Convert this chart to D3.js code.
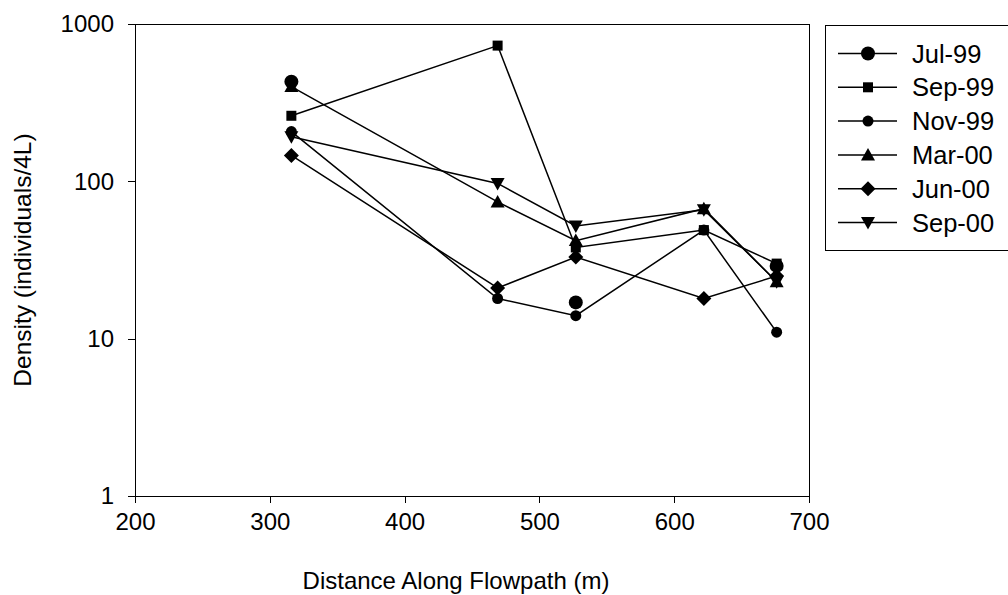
<!DOCTYPE html>
<html>
<head>
<meta charset="utf-8">
<script src="https://cdn.jsdelivr.net/npm/d3@7"></script>
<style>
    body { margin: 0; background: #fff; }
    svg { display: block; font-family: "Liberation Sans", Arial, sans-serif; }
</style>
</head>
<body>
<div id="chart"></div>
<script>
    // distance along flowpath (m)
    var distances = [316, 469, 527, 622, 676];

    var series_names = ["Jul-99", "Sep-99", "Nov-99", "Mar-00", "Jun-00", "Sep-00"];
    var series_markers = ["circle", "square", "smallcircle", "triangle", "diamond", "triangledown"];

    // density (individuals/4L), null = no sample
    var jul99 = [430, null, 17, null, 29];
    var sep99 = [261, 729, 38, 49, 30];
    var nov99 = [207, 18, 14, 49, 11];
    var mar00 = [400, 74, 42, 67, 23];
    var jun00 = [146, 21, 33, 18, 25];
    var sep00 = [192, 97, 52, 66, 23];

    var x_ticks = [200, 300, 400, 500, 600, 700];
    var y_ticks = [1, 10, 100, 1000];

    var series_values = [jul99, sep99, nov99, mar00, jun00, sep00];

    var width = 1008,
        height = 595,
        margin = { top: 24, right: 199, bottom: 99, left: 135 };

    var plot_w = width - margin.left - margin.right,
        plot_h = height - margin.top - margin.bottom;

    var svg = d3.select("#chart").append("svg")
        .attr("width", width)
        .attr("height", height);

    var x = d3.scaleLinear().domain([200, 700]).range([0, plot_w]);
    var y = d3.scaleLog().domain([1, 1000]).range([plot_h, 0]);

    var g = svg.append("g")
        .attr("transform", "translate(" + margin.left + "," + margin.top + ")");

    // plot frame
    g.append("rect")
        .attr("x", 0.5).attr("y", 0.5)
        .attr("width", plot_w).attr("height", plot_h)
        .style("fill", "none")
        .style("stroke", "#000")
        .style("shape-rendering", "crispEdges");

    var x_axis = g.append("g")
        .attr("transform", "translate(0," + plot_h + ")")
        .call(d3.axisBottom(x).tickValues(x_ticks).tickSize(7).tickSizeOuter(0).tickPadding(10));

    var y_axis = g.append("g")
        .call(d3.axisLeft(y).tickValues(y_ticks).tickFormat(d3.format("d")).tickSize(7).tickSizeOuter(0).tickPadding(14));

    [x_axis, y_axis].forEach( function(axis) {
        axis.selectAll("path, line")
            .style("stroke", "#000")
            .style("shape-rendering", "crispEdges");
        axis.selectAll("text")
            .style("font-size", "24px")
            .style("fill", "#000")
            .style("font-family", "'Liberation Sans', Arial, sans-serif");
    });

    // axis titles
    svg.append("text")
        .attr("x", 456)
        .attr("y", 589)
        .attr("text-anchor", "middle")
        .style("font-size", "24px")
        .text("Distance Along Flowpath (m)");

    svg.append("text")
        .attr("transform", "translate(31," + (margin.top + plot_h / 2) + ") rotate(-90)")
        .attr("text-anchor", "middle")
        .style("font-size", "24.5px")
        .text("Density (individuals/4L)");

    // marker shapes
    function markerPath(type) {
        switch (type) {
            case "circle": return d3.symbol(d3.symbolCircle, Math.PI * 7 * 7)();
            case "smallcircle": return d3.symbol(d3.symbolCircle, Math.PI * 5.5 * 5.5)();
            case "square": return "M-5,-5H5V5H-5Z";
            case "triangle": return "M0,-7L7,5.5H-7Z";
            case "triangledown": return "M0,7L7,-5.5H-7Z";
            case "diamond": return "M0,-7.5L7.5,0L0,7.5L-7.5,0Z";
        }
    }

    var line = d3.line()
        .defined(function(d) { return d.v !== null; })
        .x(function(d) { return x(d.x); })
        .y(function(d) { return y(d.v); });

    var series = series_names.map( function(name, i) {
        return {
            name: name,
            marker: series_markers[i],
            points: distances.map( function(dx, j) { return { x: dx, v: series_values[i][j] }; })
        };
    });

    // lines first, then markers on top
    g.selectAll(".s-line")
        .data(series)
        .enter().append("path")
        .attr("class", "s-line")
        .attr("d", function(d) { return line(d.points); })
        .style("fill", "none")
        .style("stroke", "#000")
        .style("stroke-width", 1.5);

    series.forEach( function(s) {
        g.selectAll(null)
            .data(s.points.filter(function(p) { return p.v !== null; }))
            .enter().append("path")
            .attr("transform", function(p) { return "translate(" + x(p.x) + "," + y(p.v) + ")"; })
            .attr("d", markerPath(s.marker))
            .style("fill", "#000");
    });

    // legend
    var legend = svg.append("g").attr("transform", "translate(825,25)");

    legend.append("rect")
        .attr("x", 0.5).attr("y", 0.5)
        .attr("width", 190).attr("height", 225)
        .style("fill", "#fff")
        .style("stroke", "#000")
        .style("shape-rendering", "crispEdges");

    var item = legend.selectAll(".l-item")
        .data(series)
        .enter().append("g")
        .attr("class", "l-item")
        .attr("transform", function(d, i) { return "translate(0," + (28.5 + i * 33.8) + ")"; });

    item.append("line")
        .attr("x1", 13).attr("x2", 72)
        .style("stroke", "#000")
        .style("stroke-width", 1.5);

    item.append("path")
        .attr("transform", "translate(43,0)")
        .attr("d", function(d) { return markerPath(d.marker); })
        .style("fill", "#000");

    item.append("text")
        .attr("x", 87)
        .attr("y", 9)
        .style("font-size", "25.5px")
        .text(function(d) { return d.name; });
</script>
</body>
</html>
